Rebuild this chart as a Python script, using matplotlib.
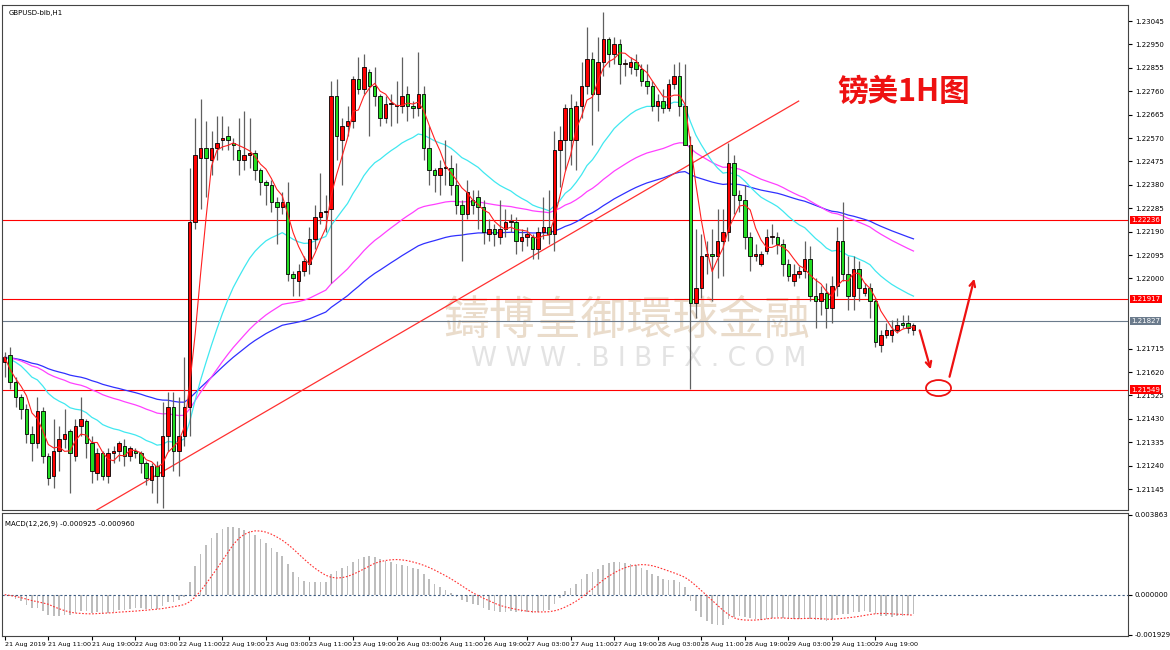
import numpy as np
import pandas as pd
import matplotlib
matplotlib.use("Agg")
import matplotlib.pyplot as plt
from matplotlib.patches import Ellipse, Rectangle

plt.rcParams['font.family'] = ['DejaVu Sans']

# === DATA (hourly GBPUSD candles) ===
# each row: open, high, low, close
CANDLES = [
    # 21 - 22 Aug
    (1.2166, 1.2170, 1.2160, 1.2168), (1.2169, 1.2172, 1.2155, 1.2158), (1.2158, 1.2160, 1.2148, 1.2152),
    (1.2152, 1.2153, 1.2143, 1.2147), (1.2147, 1.2149, 1.2133, 1.2137), (1.2137, 1.2140, 1.2126, 1.2133),
    (1.2133, 1.2152, 1.2131, 1.2146), (1.2146, 1.2148, 1.2125, 1.2128), (1.2128, 1.2129, 1.2116, 1.2119),
    (1.2120, 1.2143, 1.2115, 1.2130), (1.2130, 1.2140, 1.2122, 1.2135), (1.2135, 1.2147, 1.2131, 1.2137),
    (1.2138, 1.2139, 1.2113, 1.2129), (1.2128, 1.2143, 1.2126, 1.2140), (1.2140, 1.2152, 1.2136, 1.2143),
    (1.2142, 1.2143, 1.2127, 1.2133), (1.2133, 1.2136, 1.2117, 1.2122), (1.2121, 1.2131, 1.2118, 1.2129),
    (1.2129, 1.2130, 1.2118, 1.2120), (1.2120, 1.2131, 1.2117, 1.2129), (1.2129, 1.2132, 1.2125, 1.2130),
    (1.2130, 1.2134, 1.2126, 1.2133), (1.2132, 1.2135, 1.2124, 1.2128), (1.2128, 1.2132, 1.2126, 1.2131),
    (1.2130, 1.2131, 1.2127, 1.2129), (1.2129, 1.2130, 1.2121, 1.2125), (1.2125, 1.2126, 1.2116, 1.2119),
    (1.2118, 1.2125, 1.2113, 1.2124), (1.2124, 1.2126, 1.2109, 1.2120), (1.2120, 1.2150, 1.2107, 1.2136),
    (1.2136, 1.2154, 1.2130, 1.2148), (1.2148, 1.2154, 1.2122, 1.2130), (1.2130, 1.2152, 1.2120, 1.2136),
    (1.2136, 1.2168, 1.2132, 1.2148), (1.2148, 1.2245, 1.2136, 1.2223), (1.2223, 1.2265, 1.2220, 1.2250),
    (1.2249, 1.2273, 1.2228, 1.2253), (1.2253, 1.2264, 1.2233, 1.2249), (1.2248, 1.2260, 1.2242, 1.2253),
    (1.2253, 1.2266, 1.2248, 1.2255), (1.2256, 1.2266, 1.2252, 1.2257), (1.2258, 1.2262, 1.2252, 1.2256),
    (1.2255, 1.2257, 1.2248, 1.2254), (1.2252, 1.2265, 1.2242, 1.2248),
    # 22 - 26 Aug
    (1.2248, 1.2268, 1.2244, 1.2250), (1.2250, 1.2265, 1.2245, 1.2251), (1.2251, 1.2252, 1.2240, 1.2244),
    (1.2244, 1.2245, 1.2234, 1.2239), (1.2239, 1.2240, 1.2230, 1.2238), (1.2238, 1.2240, 1.2227, 1.2231),
    (1.2231, 1.2233, 1.2214, 1.2229), (1.2229, 1.2235, 1.2226, 1.2231), (1.2231, 1.2239, 1.2199, 1.2202),
    (1.2202, 1.2203, 1.2193, 1.2200), (1.2199, 1.2206, 1.2193, 1.2203), (1.2203, 1.2209, 1.2201, 1.2207),
    (1.2206, 1.2221, 1.2202, 1.2216), (1.2216, 1.2230, 1.2212, 1.2225), (1.2225, 1.2243, 1.2222, 1.2227),
    (1.2227, 1.2234, 1.2219, 1.2227), (1.2228, 1.2280, 1.2198, 1.2274), (1.2274, 1.2281, 1.2248, 1.2258),
    (1.2256, 1.2265, 1.2238, 1.2262), (1.2262, 1.2270, 1.2258, 1.2264), (1.2264, 1.2282, 1.2261, 1.2281),
    (1.2281, 1.2290, 1.2275, 1.2277), (1.2277, 1.2291, 1.2275, 1.2286), (1.2284, 1.2285, 1.2258, 1.2278),
    (1.2278, 1.2286, 1.2270, 1.2274), (1.2274, 1.2275, 1.2262, 1.2265), (1.2265, 1.2274, 1.2263, 1.2271),
    (1.2271, 1.2275, 1.2262, 1.2271), (1.2270, 1.2280, 1.2263, 1.2270), (1.2270, 1.2290, 1.2267, 1.2274),
    (1.2275, 1.2278, 1.2264, 1.2270), (1.2270, 1.2272, 1.2265, 1.2269), (1.2269, 1.2292, 1.2266, 1.2275),
    (1.2275, 1.2278, 1.2248, 1.2253), (1.2253, 1.2262, 1.2238, 1.2244), (1.2244, 1.2245, 1.2235, 1.2242),
    (1.2242, 1.2248, 1.2234, 1.2245), (1.2245, 1.2256, 1.2238, 1.2245), (1.2245, 1.2250, 1.2234, 1.2238),
    (1.2238, 1.2247, 1.2226, 1.2230), (1.2230, 1.2232, 1.2207, 1.2226), (1.2226, 1.2240, 1.2224, 1.2235),
    # 26 - 28 Aug
    (1.2232, 1.2236, 1.2226, 1.2230), (1.2233, 1.2236, 1.2220, 1.2229), (1.2229, 1.2232, 1.2214, 1.2219),
    (1.2218, 1.2224, 1.2215, 1.2220), (1.2220, 1.2222, 1.2213, 1.2218), (1.2217, 1.2232, 1.2214, 1.2220),
    (1.2220, 1.2228, 1.2217, 1.2223), (1.2223, 1.2226, 1.2219, 1.2223), (1.2223, 1.2225, 1.2210, 1.2215),
    (1.2215, 1.2220, 1.2211, 1.2217), (1.2217, 1.2221, 1.2213, 1.2218), (1.2217, 1.2218, 1.2208, 1.2212),
    (1.2212, 1.2221, 1.2208, 1.2219), (1.2219, 1.2233, 1.2216, 1.2221), (1.2221, 1.2236, 1.2214, 1.2218),
    (1.2218, 1.2260, 1.2211, 1.2252), (1.2252, 1.2262, 1.2237, 1.2256), (1.2256, 1.2271, 1.2244, 1.2269),
    (1.2269, 1.2275, 1.2246, 1.2256), (1.2256, 1.2272, 1.2244, 1.2270), (1.2270, 1.2288, 1.2265, 1.2278),
    (1.2278, 1.2302, 1.2275, 1.2289), (1.2289, 1.2292, 1.2254, 1.2275), (1.2275, 1.2298, 1.2268, 1.2288),
    (1.2288, 1.2308, 1.2282, 1.2297), (1.2297, 1.2298, 1.2286, 1.2291), (1.2291, 1.2298, 1.2287, 1.2295),
    (1.2295, 1.2297, 1.2279, 1.2287), (1.2287, 1.2289, 1.2282, 1.2287), (1.2286, 1.2290, 1.2283, 1.2288),
    (1.2288, 1.2291, 1.2282, 1.2285), (1.2285, 1.2287, 1.2278, 1.2280), (1.2280, 1.2287, 1.2275, 1.2278),
    (1.2278, 1.2280, 1.2268, 1.2270), (1.2270, 1.2275, 1.2264, 1.2272), (1.2272, 1.2277, 1.2267, 1.2269),
    (1.2269, 1.2281, 1.2268, 1.2279), (1.2279, 1.2287, 1.2277, 1.2282), (1.2282, 1.2288, 1.2266, 1.2270),
    (1.2270, 1.2287, 1.2254, 1.2254), (1.2254, 1.2258, 1.2155, 1.2190), (1.2190, 1.2220, 1.2184, 1.2196),
    # 28 - 29 Aug
    (1.2196, 1.2218, 1.2192, 1.2209), (1.2209, 1.2215, 1.2202, 1.2210), (1.2210, 1.2220, 1.2191, 1.2209),
    (1.2209, 1.2228, 1.2200, 1.2215), (1.2215, 1.2228, 1.2201, 1.2219), (1.2219, 1.2255, 1.2215, 1.2247),
    (1.2247, 1.2250, 1.2226, 1.2234), (1.2234, 1.2236, 1.2227, 1.2232), (1.2232, 1.2238, 1.2212, 1.2217),
    (1.2217, 1.2219, 1.2203, 1.2209), (1.2209, 1.2214, 1.2207, 1.2210), (1.2206, 1.2211, 1.2205, 1.2210),
    (1.2211, 1.2220, 1.2210, 1.2217), (1.2217, 1.2222, 1.2214, 1.2217), (1.2217, 1.2219, 1.2210, 1.2214),
    (1.2214, 1.2216, 1.2201, 1.2206), (1.2206, 1.2208, 1.2199, 1.2201), (1.2199, 1.2206, 1.2197, 1.2202),
    (1.2202, 1.2205, 1.2200, 1.2203), (1.2203, 1.2215, 1.2200, 1.2208), (1.2208, 1.2213, 1.2191, 1.2193),
    (1.2193, 1.2200, 1.2180, 1.2191), (1.2191, 1.2197, 1.2185, 1.2194), (1.2194, 1.2198, 1.2180, 1.2188),
    (1.2188, 1.2201, 1.2182, 1.2197), (1.2197, 1.2221, 1.2193, 1.2215), (1.2215, 1.2231, 1.2199, 1.2202),
    (1.2202, 1.2209, 1.2187, 1.2193), (1.2193, 1.2209, 1.2187, 1.2204), (1.2204, 1.2207, 1.2191, 1.2196),
    (1.2194, 1.2198, 1.2193, 1.2196), (1.2196, 1.2198, 1.2184, 1.2191), (1.2191, 1.2192, 1.2172, 1.2174),
    (1.2173, 1.2179, 1.2170, 1.2177), (1.2177, 1.2182, 1.2176, 1.2179), (1.2177, 1.2183, 1.2174, 1.2179),
    (1.2179, 1.2184, 1.2178, 1.2181), (1.2182, 1.2185, 1.2180, 1.2181), (1.2182, 1.2185, 1.2178, 1.2180),
    (1.2179, 1.2182, 1.2177, 1.2181),
]

TIME_LABELS = ["21 Aug 2019", "21 Aug 11:00", "21 Aug 19:00", "22 Aug 03:00", "22 Aug 11:00",
               "22 Aug 19:00", "23 Aug 03:00", "23 Aug 11:00", "23 Aug 19:00", "26 Aug 03:00",
               "26 Aug 11:00", "26 Aug 19:00", "27 Aug 03:00", "27 Aug 11:00", "27 Aug 19:00",
               "28 Aug 03:00", "28 Aug 11:00", "28 Aug 19:00", "29 Aug 03:00", "29 Aug 11:00",
               "29 Aug 19:00"]
PRICE_TICKS = [1.23045, 1.22950, 1.22855, 1.22760, 1.22665, 1.22570, 1.22475, 1.22380, 1.22285,
               1.22190, 1.22095, 1.22000, 1.21715, 1.21620, 1.21525, 1.21430,
               1.21335, 1.21240, 1.21145]
LEVELS = {1.22236: 'red', 1.21917: 'red', 1.21827: '#6b7b8c', 1.21549: 'red'}
TREND_X = [16.9, 145.9]          # bar index of trendline ends
TREND_Y = [1.2106, 1.2272]

df = pd.DataFrame(CANDLES, columns=["open", "high", "low", "close"])
n = len(df)
idx = np.arange(n)

ma_fast = df["close"].rolling(5, min_periods=1).mean()
ma_cyan = df["close"].ewm(span=24, adjust=False).mean()
ma_mag = df["close"].ewm(span=60, adjust=False).mean()
ma_blue = df["close"].ewm(span=90, adjust=False).mean()
macd = df["close"].ewm(span=12, adjust=False).mean() - df["close"].ewm(span=26, adjust=False).mean()
signal = macd.rolling(9, min_periods=1).mean()

W, H = 1170, 650
fig = plt.figure(figsize=(W / 100, H / 100), dpi=100)
L, R = 2 / W, 1128 / W
ax = fig.add_axes([L, 1 - 510 / H, R - L, 505 / H])
axm = fig.add_axes([L, 1 - 636 / H, R - L, 123 / H], sharex=ax)

XMAX = (1128 - 3) / 5.45
for a in (ax, axm):
    a.set_xlim(-0.5, XMAX)
    a.yaxis.tick_right()
    a.tick_params(axis='y', labelsize=5, length=3, pad=2)
    for s in a.spines.values():
        s.set_color('#444444')
        s.set_linewidth(0.8)

ax.set_ylim(1.2106, 1.2311)
ax.set_yticks(PRICE_TICKS)
ax.set_yticklabels([f"{v:.5f}" for v in PRICE_TICKS])
ax.tick_params(axis='x', bottom=False, labelbottom=False)

# watermark
ax.text(0.555, 0.375, "鑄博皇御環球金融", transform=ax.transAxes, ha='center', va='center',
        fontsize=33, color='#eadccb', family=['Noto Sans CJK TC', 'DejaVu Sans'], zorder=0)
ax.text(0.565, 0.30, "W W W . B I B F X . C O M", transform=ax.transAxes, ha='center', va='center',
        fontsize=19, color='#e3e3e3', zorder=0)

# level lines
for lv, col in LEVELS.items():
    ax.axhline(lv, color=col, lw=0.8, zorder=1)
    ax.text(1.003, lv, f"{lv:.5f}", transform=ax.get_yaxis_transform(), fontsize=5,
            color='white', va='center', ha='left',
            bbox=dict(boxstyle='square,pad=0.15', fc=col, ec='none'), clip_on=False, zorder=5)

# moving averages
ax.plot(idx, ma_blue, color='#3030ff', lw=0.9, zorder=2)
ax.plot(idx, ma_mag, color='#ff40ff', lw=0.9, zorder=2)
ax.plot(idx, ma_cyan, color='#40e8f0', lw=0.9, zorder=2)
ax.plot(TREND_X, TREND_Y, color='#ff3030', lw=0.9, zorder=2)

# candles
for i, r in df.iterrows():
    up = r["close"] >= r["open"]
    ax.vlines(i, r["low"], r["high"], color='#606060', lw=0.9, zorder=3)
    lo, hi = min(r["open"], r["close"]), max(r["open"], r["close"])
    ax.add_patch(Rectangle((i - 0.32, lo), 0.64, max(hi - lo, 0.00003),
                           fc='#ff0000' if up else '#22dd22', ec='black', lw=0.6, zorder=4))
ax.plot(idx, ma_fast, color='#ff2020', lw=0.8, zorder=4.5)

# annotations
ax.text(0.742, 0.81, "镑美1H图", transform=ax.transAxes, fontsize=22, color='#ee1111',
        fontweight='bold', family=['Noto Sans CJK SC', 'DejaVu Sans'])
ax.annotate("", xy=(170.3, 1.2162), xytext=(168.0, 1.2180),
            arrowprops=dict(arrowstyle='->', color='#ee1111', lw=1.6))
ax.annotate("", xy=(178.3, 1.2201), xytext=(173.5, 1.2159),
            arrowprops=dict(arrowstyle='->', color='#ee1111', lw=1.6))
ax.add_patch(Ellipse((171.6, 1.21555), 4.6, 0.00065, fc='none', ec='#ee1111', lw=1.3, zorder=6))
ax.text(0.006, 0.99, "GBPUSD-bib,H1", transform=ax.transAxes, fontsize=5, va='top')

# MACD panel
axm.bar(idx, macd, width=0.3, color='#bdbdbd', zorder=2)
axm.plot(idx, signal, color='#ff3030', lw=0.8, ls=(0, (1.5, 1.5)), zorder=3)
axm.axhline(0, color='#3a5a80', lw=0.8, ls=(0, (2, 2)))
axm.set_ylim(-0.00200, 0.00395)
axm.set_yticks([0.003863, 0.0, -0.001929])
axm.set_yticklabels(["0.003863", "0.000000", "-0.001929"])
axm.text(0.003, 0.94, "MACD(12,26,9) -0.000925 -0.000960", transform=axm.transAxes, fontsize=5, va='top')
axm.set_xticks(np.arange(len(TIME_LABELS)) * 8)
axm.set_xticklabels(TIME_LABELS, fontsize=4.6, ha='left')
axm.tick_params(axis='x', length=3, pad=1)

fig.savefig("out.png", dpi=100)
